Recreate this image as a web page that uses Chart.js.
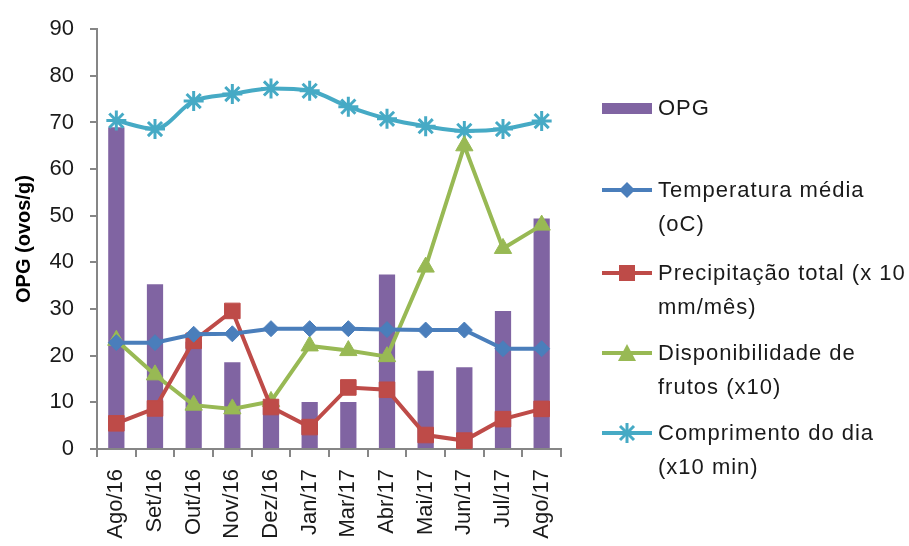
<!DOCTYPE html>
<html>
<head>
<meta charset="utf-8">
<script src="https://cdn.jsdelivr.net/npm/chart.js@4"></script>
<style>
  html, body { margin: 0; padding: 0; background: #fff; }
  #wrap { position: relative; width: 909px; height: 546px; }
  #chart { position: absolute; left: 0; top: 0; }
  #legend { position: absolute; left: 600px; top: 0; font-family: "Liberation Sans", sans-serif; font-size: 22px; color: #1a1a1a; letter-spacing: 1px; }
  .item { position: absolute; left: 0; width: 309px; }
  .item svg { position: absolute; left: 0; }
  .item .txt { position: absolute; left: 58px; line-height: 34px; white-space: nowrap; }
</style>
</head>
<body>
<div id="wrap">
  <canvas id="chart" width="909" height="546"></canvas>
  <div id="legend"></div>
</div>
<script>
// Dados
const months = ["Ago/16", "Set/16", "Out/16", "Nov/16", "Dez/16", "Jan/17", "Mar/17", "Abr/17", "Mai/17", "Jun/17", "Jul/17", "Ago/17"];
const opg = [69, 35.3, 23, 18.6, 9, 10.1, 10.1, 37.4, 16.8, 17.5, 29.6, 49.4];
const temperatura = [22.8, 22.8, 24.6, 24.7, 25.8, 25.8, 25.8, 25.6, 25.5, 25.5, 21.5, 21.5];
const precipitacao = [5.5, 8.7, 23.2, 29.6, 9.0, 4.7, 13.2, 12.7, 3.0, 1.8, 6.4, 8.6];
const frutos = [23.3, 15.9, 9.4, 8.6, 10.2, 22.1, 21.1, 19.8, 39, 65, 43, 48];
const comprimento = [70.4, 68.6, 74.6, 76.1, 77.3, 76.8, 73.4, 70.8, 69.2, 68.2, 68.6, 70.3];
const yTicks = [0, 10, 20, 30, 40, 50, 60, 70, 80, 90];

const axisGray = "#868686";

const lineSet = (label, data, color, style, radius, extra) => Object.assign({
  type: "line",
  label: label,
  data: data,
  borderColor: color,
  backgroundColor: color,
  pointBackgroundColor: color,
  pointBorderColor: color,
  borderWidth: 4,
  pointStyle: style,
  pointRadius: radius,
  pointBorderWidth: 1,
  tension: 0,
  order: 1
}, extra || {});

const datasets = [
  { type: "bar", label: "OPG", data: opg, backgroundColor: "#8064A2", barPercentage: 0.42, categoryPercentage: 1, order: 5 },
  lineSet("Temperatura média (oC)", temperatura, "#4A7EBB", "rectRot", 8),
  lineSet("Precipitação total (x 10 mm/mês)", precipitacao, "#BE4B48", "rect", 11),
  lineSet("Disponibilidade de frutos (x10)", frutos, "#98B954", "triangle", 10),
  lineSet("Comprimento do dia (x10 min)", comprimento, "#46AAC5", "star", 10, { cubicInterpolationMode: "monotone", pointBorderWidth: 3 })
];

new Chart(document.getElementById("chart"), {
  data: { labels: months, datasets: datasets },
  options: {
    responsive: false,
    animation: false,
    layout: { padding: { left: 0, right: 348, top: 24, bottom: 0 } },
    plugins: { legend: { display: false }, tooltip: { enabled: false } },
    scales: {
      x: {
        grid: { display: true, drawOnChartArea: false, drawTicks: true, tickLength: 8, color: axisGray, lineWidth: 2, offset: true },
        border: { display: true, color: axisGray, width: 2 },
        ticks: { color: "#1a1a1a", font: { family: "Liberation Sans", size: 22 }, maxRotation: 90, minRotation: 90, padding: 12, autoSkip: false },
        afterFit: (s) => { s.height = 97; }
      },
      y: {
        min: 0,
        max: 90,
        afterBuildTicks: (s) => { s.ticks = yTicks.map(v => ({ value: v })); },
        grid: { display: true, drawOnChartArea: false, drawTicks: true, tickLength: 7, color: axisGray, lineWidth: 2 },
        border: { display: true, color: axisGray, width: 2 },
        ticks: { color: "#1a1a1a", font: { family: "Liberation Sans", size: 22 }, padding: 16 },
        title: { display: true, text: "OPG (ovos/g)", color: "#000", font: { family: "Liberation Sans", size: 20, weight: "bold" }, padding: { top: 12, bottom: 0 } },
        afterFit: (s) => { s.width = 97; }
      }
    }
  }
});

// Legenda em HTML (texto quebrado como no original)
const legendItems = [
  { lines: ["OPG"], color: "#8064A2", kind: "bar", top: 91 },
  { lines: ["Temperatura média", "(oC)"], color: "#4A7EBB", kind: "rectRot", top: 173 },
  { lines: ["Precipitação total (x 10", "mm/mês)"], color: "#BE4B48", kind: "rect", top: 256 },
  { lines: ["Disponibilidade de", "frutos (x10)"], color: "#98B954", kind: "triangle", top: 336 },
  { lines: ["Comprimento do dia", "(x10 min)"], color: "#46AAC5", kind: "star", top: 416 }
];

function iconSvg(kind, c) {
  const line = `<line x1="2" y1="17" x2="52" y2="17" stroke="${c}" stroke-width="4"/>`;
  if (kind === "bar") return `<rect x="2" y="12" width="50" height="11" fill="${c}"/>`;
  if (kind === "rectRot") return line + `<polygon points="27,9 35,17 27,25 19,17" fill="${c}"/>`;
  if (kind === "rect") return line + `<rect x="19" y="9" width="16" height="16" fill="${c}"/>`;
  if (kind === "triangle") return line + `<polygon points="27,8 36,25 18,25" fill="${c}"/>`;
  return line + `<g stroke="${c}" stroke-width="3"><line x1="27" y1="7" x2="27" y2="27"/><line x1="20" y1="10" x2="34" y2="24"/><line x1="34" y1="10" x2="20" y2="24"/></g>`;
}

const legendEl = document.getElementById("legend");
legendItems.forEach(it => {
  const div = document.createElement("div");
  div.className = "item";
  div.style.top = it.top + "px";
  div.innerHTML = `<svg width="54" height="34" viewBox="0 0 54 34">${iconSvg(it.kind, it.color)}</svg>` +
    `<div class="txt">${it.lines.join("<br>")}</div>`;
  legendEl.appendChild(div);
});
</script>
</body>
</html>
